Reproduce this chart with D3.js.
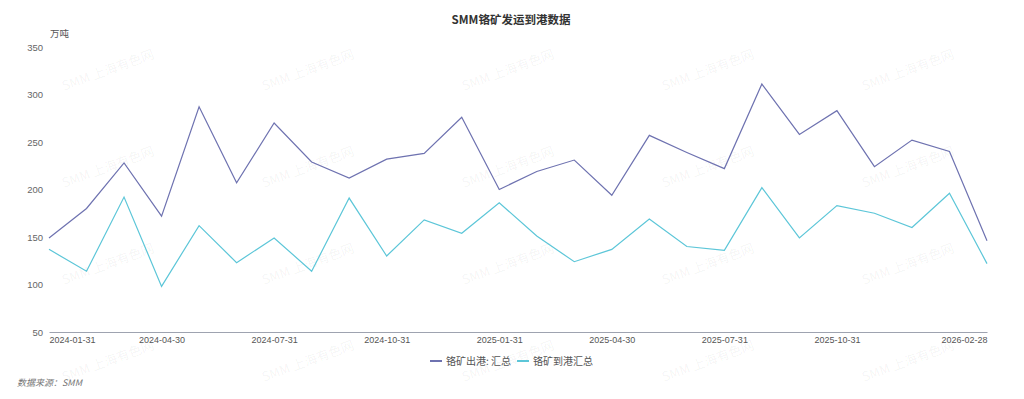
<!DOCTYPE html>
<html>
<head>
<meta charset="utf-8">
<script src="https://cdn.jsdelivr.net/npm/d3@7"></script>
<style>
  body { margin: 0; background: #fff; }
  svg { display: block; font-family: "Microsoft YaHei", "Noto Sans CJK SC", "Noto Sans", sans-serif; }
</style>
</head>
<body>
<div id="chart"></div>
<script>
// datas (fim de mês)
const datas = [
  "2024-01-31", "2024-02-29", "2024-03-31", "2024-04-30", "2024-05-31", "2024-06-30",
  "2024-07-31", "2024-08-31", "2024-09-30", "2024-10-31", "2024-11-30", "2024-12-31",
  "2025-01-31", "2025-02-28", "2025-03-31", "2025-04-30", "2025-05-31", "2025-06-30",
  "2025-07-31", "2025-08-31", "2025-09-30", "2025-10-31", "2025-11-30", "2025-12-31",
  "2026-01-31", "2026-02-28"
];

// 铬矿出港: 汇总 (万吨)
const chuGang = [149, 180, 228, 172, 287, 207, 270, 229, 212, 232, 238, 276,
                 200, 219, 231, 194, 257, 239, 222, 311, 258, 283, 224, 252, 240, 146];

// 铬矿到港汇总 (万吨)
const daoGang = [137, 114, 192, 98, 162, 123, 149, 114, 191, 130, 168, 154,
                 186, 151, 124, 137, 169, 140, 136, 202, 149, 183, 175, 160, 196, 122];

const yTicks = [50, 100, 150, 200, 250, 300, 350];
const xLabels = ["2024-01-31", "2024-04-30", "2024-07-31", "2024-10-31", "2025-01-31",
                 "2025-04-30", "2025-07-31", "2025-10-31", "2026-02-28"];

const width = 1024, height = 399;
const margin = { top: 47, right: 37, bottom: 67, left: 49 };

const svg = d3.select("#chart").append("svg")
  .attr("width", width)
  .attr("height", height);

// marca d'água
const wm = svg.append("g").attr("fill", "#000").attr("fill-opacity", 0.05)
  .attr("font-size", 13);
for (let r = 0; r < 4; r++) {
  for (let c = 0; c < 5; c++) {
    const cx = 108 + c * 200, cy = 70 + r * 97;
    wm.append("text")
      .attr("transform", `translate(${cx},${cy}) rotate(-20)`)
      .attr("text-anchor", "middle")
      .attr("dy", "0.35em")
      .text("SMM 上海有色网");
  }
}

const x = d3.scalePoint()
  .domain(datas)
  .range([margin.left, width - margin.right]);

const y = d3.scaleLinear()
  .domain([50, 350])
  .range([height - margin.bottom, margin.top]);

// título
svg.append("text")
  .attr("x", 511).attr("y", 24)
  .attr("text-anchor", "middle")
  .attr("font-size", 11.5)
  .attr("font-weight", "bold")
  .attr("fill", "#333")
  .text("SMM铬矿发运到港数据");

// unidade
svg.append("text")
  .attr("x", 50).attr("y", 37)
  .attr("font-size", 9.5)
  .attr("fill", "#555")
  .text("万吨");

// eixo y (só rótulos)
const yAxis = svg.append("g")
  .attr("transform", `translate(${margin.left},0)`)
  .call(d3.axisLeft(y).tickValues(yTicks).tickSize(0).tickPadding(6));
yAxis.select(".domain").remove();
yAxis.selectAll("text").attr("font-size", 9.5).attr("fill", "#666")
  .attr("font-family", null);

// eixo x
const xAxis = svg.append("g")
  .attr("transform", `translate(0,${height - margin.bottom})`)
  .call(d3.axisBottom(x).tickValues(xLabels).tickSize(0).tickPadding(5));
xAxis.select(".domain").attr("stroke", "#9ea3b0").attr("stroke-width", 1);
xAxis.selectAll("text").attr("font-size", 9).attr("fill", "#555")
  .attr("font-family", null)
  .attr("text-anchor", (d, i) => i === 0 ? "start" : (i === xLabels.length - 1 ? "end" : "middle"));

// linhas
const series = [
  { name: "铬矿出港: 汇总", values: chuGang, color: "#6e72b0" },
  { name: "铬矿到港汇总", values: daoGang, color: "#5cc6d8" }
];

const line = d3.line()
  .x((d, i) => x(datas[i]))
  .y(d => y(d));

series.forEach(s => {
  svg.append("path")
    .datum(s.values)
    .attr("fill", "none")
    .attr("stroke", s.color)
    .attr("stroke-width", 1.2)
    .attr("d", line);
});

// legenda
const legend = svg.append("g");
let lx = 0;
series.forEach(s => {
  legend.append("line")
    .attr("x1", lx).attr("x2", lx + 12)
    .attr("y1", 0).attr("y2", 0)
    .attr("stroke", s.color).attr("stroke-width", 2);
  const t = legend.append("text")
    .attr("x", lx + 16).attr("y", 0)
    .attr("dy", "0.35em")
    .attr("font-size", 10)
    .attr("fill", "#555")
    .text(s.name);
  lx += 16 + t.node().getComputedTextLength() + 6;
});
const lw = lx - 6;
legend.attr("transform", `translate(${Math.round(512 - lw / 2)},361)`);

// fonte
svg.append("text")
  .attr("x", 17).attr("y", 386)
  .attr("font-size", 9)
  .attr("font-style", "italic")
  .attr("fill", "#777")
  .text("数据来源：SMM");
</script>
</body>
</html>
